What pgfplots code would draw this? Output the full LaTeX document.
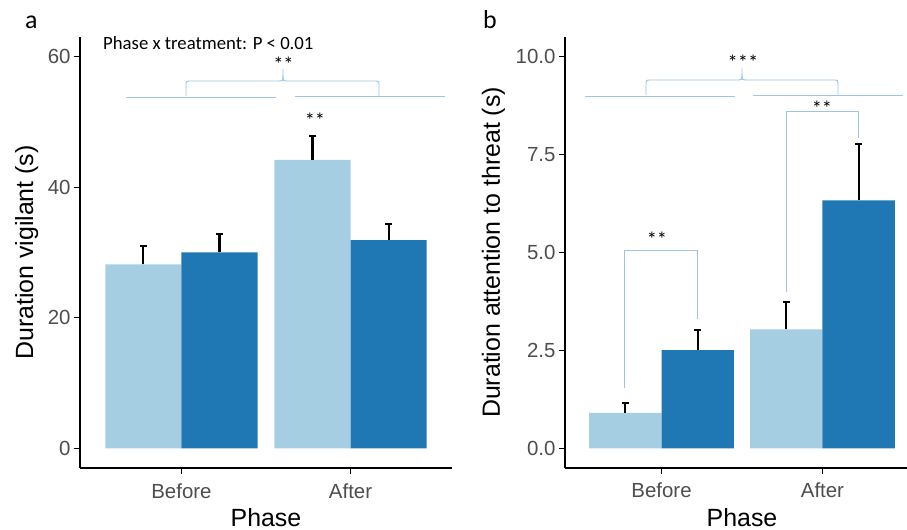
\documentclass[border=0pt]{standalone}
\usepackage{fontspec}
\setmainfont{Liberation Sans}
\newfontfamily\calfont{Carlito}
\usepackage{pgfplots}
\pgfplotsset{compat=1.18}
\definecolor{lightb}{HTML}{A6CEE3}
\definecolor{darkb}{HTML}{1F78B4}
\definecolor{annot}{HTML}{9DC3E6}
\definecolor{tickgray}{HTML}{4D4D4D}
\pgfplotsset{
  myaxis/.style={
    scale only axis,
    anchor=south west,
    axis x line*=bottom, axis y line*=left,
    axis line style={black, line width=1.1bp},
    tick align=outside,
    major tick length=6bp,
    tick style={black, line width=1bp},
    xtick={1,2}, xticklabels={Before,After},
    ticklabel style={font=\fontsize{20.5}{24}\selectfont, text=tickgray},
    xticklabel style={anchor=base, yshift=-24bp},
    /pgf/number format/assume math mode=true,
    xmin=0.4, xmax=2.6,
    xlabel={Phase},
    label style={font=\fontsize{25}{30}\selectfont},
    x label style={at={(axis description cs:0.5,0)}, anchor=base, yshift=-58bp},
    clip=false,
  },
  mybar/.style={ybar, bar width=0.45, bar shift=0pt, draw=none, fill=#1,
    error bars/.cd, y dir=plus, y explicit,
    error bar style={black, line width=2.1bp},
    error mark options={rotate=90, black, line width=2bp, mark size=3.3bp}},
}
\begin{document}
\begin{tikzpicture}
\useasboundingbox (0,0) rectangle (907bp,530bp);
% Panel a
\begin{axis}[myaxis,
  at={(80bp,62bp)}, width=372bp, height=431bp,
  ymin=-3, ymax=63, ytick={0,20,40,60},
  ylabel={Duration vigilant (s)},
  y label style={at={(axis description cs:-0.126,0.5)}, anchor=base},
]
\addplot[mybar=lightb] coordinates {(0.775,28.2) +- (0,2.8) (1.775,44.2) +- (0,3.7)};
\addplot[mybar=darkb] coordinates {(1.225,30.0) +- (0,2.8) (2.225,31.9) +- (0,2.5)};
\end{axis}
% Panel b
\begin{axis}[myaxis,
  at={(565bp,62bp)}, width=354bp, height=431bp,
  ymin=-0.5, ymax=10.5, ytick={0,2.5,5,7.5,10},
  yticklabel style={/pgf/number format/.cd, fixed, fixed zerofill, precision=1},
  ylabel={Duration attention to threat (s)},
  y label style={at={(axis description cs:-0.184,0.5)}, anchor=base},
]
\addplot[mybar=lightb] coordinates {(0.775,0.91) +- (0,0.24) (1.775,3.04) +- (0,0.70)};
\addplot[mybar=darkb] coordinates {(1.225,2.51) +- (0,0.51) (2.225,6.33) +- (0,1.45)};
\end{axis}
% Annotations (pixel coordinates, origin top-left)
\begin{scope}[shift={(0bp,530bp)}, x=1bp, y=-1bp]
\node[font=\calfont\fontsize{26}{30}\selectfont, anchor=base west, inner sep=0] at (25,29) {a};
\node[font=\calfont\fontsize{26}{30}\selectfont, anchor=base west, inner sep=0] at (483,29) {b};
\node[font=\calfont\fontsize{18.8}{22}\selectfont, anchor=west, inner sep=0] at (103,43) {Phase x treatment: P < 0.01};
\begin{scope}[annot, line width=0.9bp]
% panel a
\draw (126,97) -- (276,97);
\draw (295,96) -- (445,96);
\draw (186,96) -- (186,86) .. controls (186,81) .. (191,81) -- (278,81) .. controls (283,81) .. (283,75) -- (283,69);
\draw (283,75) .. controls (283,81) .. (288,81) -- (374,81) .. controls (379,81) .. (379,86) -- (379,96);
% panel b
\draw (585,96) -- (735,96);
\draw (753,95) -- (903,95);
\draw (646,95) -- (646,85) .. controls (646,80) .. (651,80) -- (737,80) .. controls (742,80) .. (742,74) -- (742,68);
\draw (742,74) .. controls (742,80) .. (747,80) -- (833,80) .. controls (838,80) .. (838,85) -- (838,95);
\draw (624,388) -- (624,250) -- (697,250) -- (697,319);
\draw (786,292) -- (786,111) -- (858,111) -- (858,138);
\end{scope}
\begin{scope}[every node/.style={font=\calfont\fontsize{20.5}{22}\selectfont, anchor=north, inner sep=0}]
\node at (283.5,57) {**};
\node at (315,113) {**};
\node at (743,55) {***};
\node at (822,101) {**};
\node at (657,232) {**};
\end{scope}
\end{scope}
\end{tikzpicture}
\end{document}
